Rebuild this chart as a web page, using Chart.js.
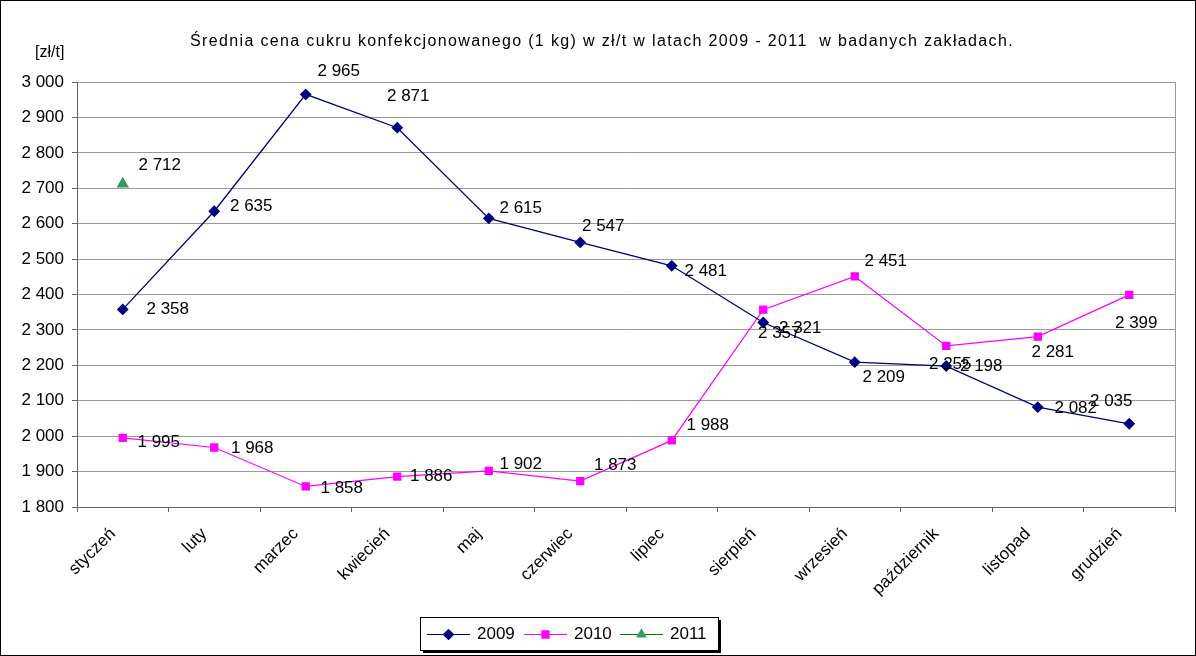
<!DOCTYPE html>
<html>
<head>
<meta charset="utf-8">
<script src="https://cdn.jsdelivr.net/npm/chart.js@4"></script>
<style>
  html, body { margin: 0; padding: 0; background: #fff; }
  #wrap { width: 1196px; height: 656px; position: relative; }
</style>
</head>
<body>
<div id="wrap"><canvas id="sugarChart" width="1196" height="656"></canvas></div>
<script>
const months = [
  "styczeń", "luty", "marzec", "kwiecień", "maj", "czerwiec",
  "lipiec", "sierpień", "wrzesień", "październik", "listopad", "grudzień",
];
const price2009 = [2358, 2635, 2965, 2871, 2615, 2547, 2481, 2321, 2209, 2198, 2082, 2035];
const price2010 = [1995, 1968, 1858, 1886, 1902, 1873, 1988, 2357, 2451, 2255, 2281, 2399];
const price2011 = [2712, null, null, null, null, null, null, null, null, null, null, null];
const yTicks = [1800, 1900, 2000, 2100, 2200, 2300, 2400, 2500, 2600, 2700, 2800, 2900, 3000];

// where Excel put each data label, relative to its point (px)
const labelShift = {
  0: [[45, 0], [37, -5], [33, -23], [11, -31], [32, -10], [23, -16],
      [34, 5], [37, 6], [29, 15], [35, 0], [38, 1], [-18, -22]],
  1: [[36, 4], [38, 1], [36, 2], [34, 0], [32, -7], [35, -16],
      [36, -15], [16, 24], [31, -15], [4, 18], [15, 16], [7, 28]],
  2: [[37, -19]],
};

const FONT = '"Liberation Sans", Arial, sans-serif';

const fmt = (v) => String(v).replace(/\B(?=(\d{3})+(?!\d))/g, " ");

const extras = {
  id: "extras",
  beforeDraw(chart) {
    const c = chart.ctx;
    c.save();
    c.fillStyle = "#fff";
    c.fillRect(0, 0, chart.width, chart.height);
    c.restore();
  },
  afterDatasetsDraw(chart) {
    const c = chart.ctx;
    const area = chart.chartArea;
    c.save();
    // right frame of the plot
    c.strokeStyle = "#999";
    c.lineWidth = 1;
    c.beginPath();
    c.moveTo(Math.round(area.right) + 0.5, area.top);
    c.lineTo(Math.round(area.right) + 0.5, area.bottom);
    c.stroke();

    // data labels
    c.fillStyle = "#000";
    c.font = "17px " + FONT;
    c.textAlign = "center";
    c.textBaseline = "middle";
    chart.data.datasets.forEach((ds, di) => {
      const meta = chart.getDatasetMeta(di);
      meta.data.forEach((pt, i) => {
        const v = ds.data[i];
        if (v == null) return;
        const s = (labelShift[di] && labelShift[di][i]) || [35, 0];
        c.fillText(fmt(v), pt.x + s[0], pt.y + s[1]);
      });
    });

    // title and unit
    c.font = "16px " + FONT;
    c.letterSpacing = "1.35px";
    c.fillText("Średnia cena cukru konfekcjonowanego (1 kg) w zł/t w latach 2009 - 2011  w badanych zakładach.", 602, 42);
    c.letterSpacing = "0px";
    c.textAlign = "left";
    c.fillText("[zł/t]", 35, 53);

    // legend
    const lx = 420, ly = 617, lw = 298, lh = 33;
    c.fillStyle = "#000";
    c.fillRect(lx + 3, ly + 3, lw, lh);
    c.fillStyle = "#fff";
    c.fillRect(lx, ly, lw, lh);
    c.strokeStyle = "#000";
    c.strokeRect(lx + 0.5, ly + 0.5, lw, lh);
    const items = [
      { x: 427, text: "2009", color: "#000080", marker: "rectRot", mcolor: "#000080" },
      { x: 524, text: "2010", color: "#ff00ff", marker: "rect", mcolor: "#ff00ff" },
      { x: 620, text: "2011", color: "#008000", marker: "triangle", mcolor: "#339966" },
    ];
    const cy = ly + lh / 2 + 1;
    c.font = "17px " + FONT;
    c.textBaseline = "middle";
    items.forEach((it) => {
      c.strokeStyle = it.color;
      c.lineWidth = 1.2;
      c.beginPath();
      c.moveTo(it.x, cy);
      c.lineTo(it.x + 43, cy);
      c.stroke();
      c.fillStyle = it.mcolor;
      c.strokeStyle = it.mcolor;
      Chart.helpers.drawPoint(c, { pointStyle: it.marker, radius: 5, borderWidth: 1 }, it.x + 21.5, cy);
      c.fillStyle = "#000";
      c.fillText(it.text, it.x + 50, cy);
    });
    c.restore();

    // outer frame
    c.save();
    c.strokeStyle = "#000";
    c.lineWidth = 1;
    c.strokeRect(0.5, 0.5, chart.width - 1, chart.height - 1);
    c.restore();
  },
};

new Chart(document.getElementById("sugarChart").getContext("2d"), {
  type: "line",
  data: {
    labels: months,
    datasets: [
      {
        label: "2009",
        data: price2009,
        borderColor: "#000080",
        backgroundColor: "#000080",
        borderWidth: 1.3,
        pointStyle: "rectRot",
        pointRadius: 5,
        tension: 0,
      },
      {
        label: "2010",
        data: price2010,
        borderColor: "#ff00ff",
        backgroundColor: "#ff00ff",
        borderWidth: 1.2,
        pointStyle: "rect",
        pointRadius: 5,
        tension: 0,
      },
      {
        label: "2011",
        data: price2011,
        borderColor: "#339966",
        backgroundColor: "#339966",
        borderWidth: 1.2,
        pointStyle: "triangle",
        pointRadius: 6,
        tension: 0,
      },
    ],
  },
  options: {
    responsive: false,
    animation: false,
    layout: { padding: { top: 82, right: 21, bottom: 0, left: 0 } },
    scales: {
      x: {
        offset: true,
        grid: {
          offset: true,
          drawOnChartArea: false,
          drawTicks: true,
          tickLength: 5,
          color: "#666",
        },
        border: { color: "#666", width: 1 },
        ticks: {
          color: "#000",
          font: { family: FONT, size: 17 },
          minRotation: 45,
          maxRotation: 45,
          autoSkip: false,
          padding: 12,
          labelOffset: -10,
        },
        afterFit(scale) { scale.height = 149; },
      },
      y: {
        min: 1800,
        max: 3000,
        afterBuildTicks(scale) { scale.ticks = yTicks.map((v) => ({ value: v })); },
        grid: { color: "#999", tickLength: 5, tickColor: "#666" },
        border: { color: "#666", width: 1 },
        ticks: {
          color: "#000",
          font: { family: FONT, size: 17 },
          padding: 8,
          callback: (v) => fmt(v),
        },
        afterFit(scale) { scale.width = 77; },
      },
    },
    plugins: {
      legend: { display: false },
      title: { display: false },
      tooltip: { enabled: false },
    },
  },
  plugins: [extras],
});
</script>
</body>
</html>
